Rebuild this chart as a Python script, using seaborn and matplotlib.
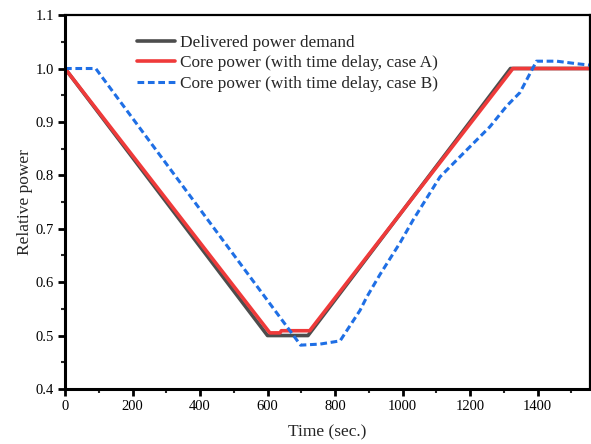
import matplotlib
matplotlib.use("Agg")
import matplotlib.pyplot as plt
import seaborn as sns
import pandas as pd
from matplotlib.ticker import MultipleLocator

# Data
demand_t = [0, 600, 720, 1320, 1560]
demand_p = [1.0, 0.5, 0.5, 1.0, 1.0]

caseA_t = [0, 607, 637, 641, 725, 1327, 1560]
caseA_p = [1.0, 0.505, 0.505, 0.509, 0.509, 1.0, 1.0]

caseB_t = [0, 91, 677, 698, 756, 815, 874, 894, 933, 993, 1031, 1111, 1180, 1259, 1309, 1348, 1397, 1457, 1516, 1560]
caseB_p = [1.0, 1.0, 0.5, 0.482, 0.484, 0.49, 0.547, 0.572, 0.614, 0.674, 0.716, 0.797, 0.841, 0.891, 0.93, 0.955, 1.0137, 1.0137, 1.009, 1.006]

labels = ["Delivered power demand",
          "Core power (with time delay, case A)",
          "Core power (with time delay, case B)"]

sns.set_theme(style="white")
plt.rcParams['font.family'] = ['Liberation Serif', 'DejaVu Serif']

fig = plt.figure(figsize=(5.91, 4.44), dpi=100)
ax = fig.add_axes([0.110, 0.124, 0.888, 0.842])

dfD = pd.DataFrame({"t": demand_t, "p": demand_p})
dfA = pd.DataFrame({"t": caseA_t, "p": caseA_p})
dfB = pd.DataFrame({"t": caseB_t, "p": caseB_p})

sns.lineplot(data=dfD, x="t", y="p", ax=ax, color="#4d4d4d", lw=2.6, label=labels[0], sort=False)
sns.lineplot(data=dfA, x="t", y="p", ax=ax, color="#ef3a3a", lw=2.6, label=labels[1], sort=False)
sns.lineplot(data=dfB, x="t", y="p", ax=ax, color="#1f6fe5", lw=2.2, label=labels[2], sort=False,
             linestyle=(0, (2.2, 1.2)))

ax.set_xlim(0, 1555)
ax.set_ylim(0.4, 1.1)
ax.xaxis.set_major_locator(MultipleLocator(200))
ax.xaxis.set_minor_locator(MultipleLocator(100))
ax.yaxis.set_major_locator(MultipleLocator(0.1))
ax.yaxis.set_minor_locator(MultipleLocator(0.05))
ax.yaxis.set_major_formatter(matplotlib.ticker.FormatStrFormatter('%.1f'))

ax.tick_params(axis='both', which='major', direction='out', length=5, width=2, labelsize=10.5,
               bottom=True, left=True, top=False, right=False, pad=3, colors='black')
ax.tick_params(axis='both', which='minor', direction='out', length=3, width=1.5,
               bottom=True, left=True, top=False, right=False)

for s in ["left", "bottom"]:
    ax.spines[s].set_linewidth(2.2)
    ax.spines[s].set_color("black")
for s in ["top", "right"]:
    ax.spines[s].set_linewidth(1.6)
    ax.spines[s].set_color("black")

ax.set_xlabel("Time (sec.)", fontsize=12.5, labelpad=8)
ax.set_ylabel("Relative power", fontsize=12.5, labelpad=2)

leg = ax.legend(loc="upper left", bbox_to_anchor=(0.137, 0.947), frameon=False, fontsize=12.4,
                handlelength=2.2, handletextpad=0.3, labelspacing=0.25, borderaxespad=0.0,
                borderpad=0.0)

fig.savefig("out.png", dpi=100)
